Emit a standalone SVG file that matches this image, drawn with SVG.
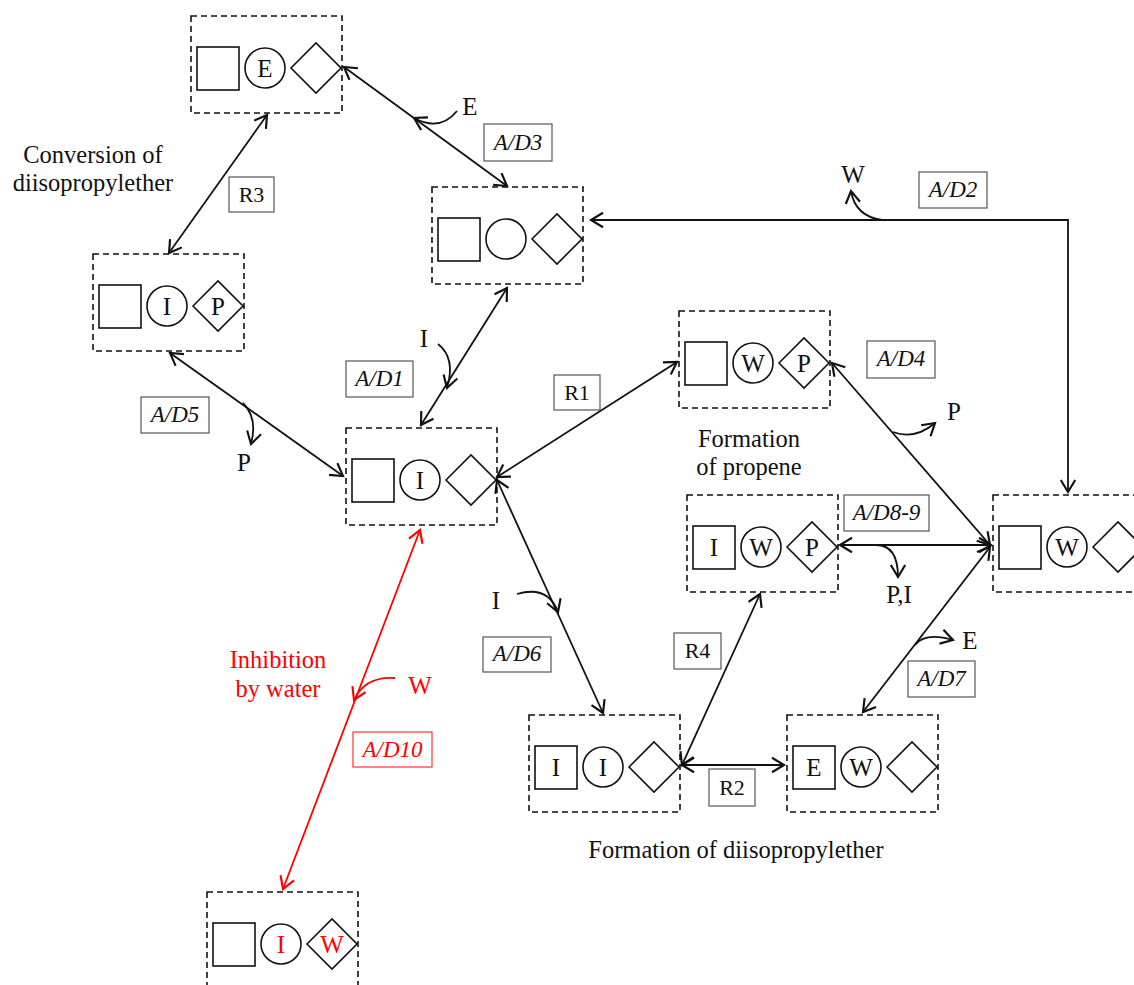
<svg xmlns="http://www.w3.org/2000/svg" width="1134" height="985" viewBox="0 0 1134 985">
<style>
.box{fill:none;stroke:#111;stroke-width:1.6;stroke-dasharray:6,4}
.sh{fill:none;stroke:#111;stroke-width:1.6}
.lt{font-family:"Liberation Serif","Times New Roman",serif;font-size:25px;fill:#111;text-anchor:middle}
.lb{fill:#fff;stroke:#555;stroke-width:1.2}
.lbt{font-family:"Liberation Serif","Times New Roman",serif;font-size:23px;fill:#111;text-anchor:middle;font-style:italic}
.rt{font-family:"Liberation Serif","Times New Roman",serif;font-size:22px;fill:#111;text-anchor:middle}
.ft{font-family:"Liberation Serif","Times New Roman",serif;font-size:24.5px;fill:#111;text-anchor:middle}
.red{fill:#ff0000}
.c{fill:none;stroke:#111;stroke-width:1.8;marker-start:url(#ah);marker-end:url(#ah)}
.c1{fill:none;stroke:#111;stroke-width:1.8;marker-end:url(#ah)}
.cr{fill:none;stroke:#ff0000;stroke-width:1.8;marker-start:url(#ahr);marker-end:url(#ahr)}
.cr1{fill:none;stroke:#ff0000;stroke-width:1.8;marker-end:url(#ahr)}
</style>
<defs>
<marker id="ah" markerUnits="userSpaceOnUse" markerWidth="24" markerHeight="24" refX="0" refY="0" viewBox="-14 -10 16 20" orient="auto-start-reverse">
<path d="M-10,-6 L0,0 L-10,6" fill="none" stroke="#111" stroke-width="1.8"/>
</marker>
<marker id="ahr" markerUnits="userSpaceOnUse" markerWidth="24" markerHeight="24" refX="0" refY="0" viewBox="-14 -10 16 20" orient="auto-start-reverse">
<path d="M-10,-6 L0,0 L-10,6" fill="none" stroke="#ff0000" stroke-width="1.8"/>
</marker>
</defs>
<rect width="1134" height="985" fill="#fff"/>

<g id="connectors">
<path class="c" d="M344,67 L507,186"/>
<path class="c1" d="M457,111 Q440,132 414,118"/>
<path class="c" d="M267,115 L169,253"/>
<path class="c" d="M170,353 L343,476"/>
<path class="c1" d="M243,403 Q258,418 251,444"/>
<path class="c" d="M507,288 L421,425"/>
<path class="c1" d="M438,344 Q456,358 447,388"/>
<path class="c" d="M497,477 L677,362"/>
<path class="c" d="M497,480 L603,713"/>
<path class="c1" d="M517,594 Q548,585 558,612"/>
<path class="c" d="M1068,492 L1068,220 L591,220"/>
<path class="c1" d="M882,220 Q855,216 851,191"/>
<path class="c" d="M832,363 L990,545"/>
<path class="c1" d="M893,432 Q915,440 935,423"/>
<path class="c" d="M840,545 L991,545"/>
<path class="c1" d="M876,545 Q898,545 898,577"/>
<path class="c" d="M990,547 L863,712"/>
<path class="c1" d="M915,645 Q925,632 953,640"/>
<path class="c" d="M760,594 L682,765"/>
<path class="c" d="M682,765 L784,765"/>
<path class="cr" d="M420,530 L283,889"/>
<path class="cr1" d="M395,678 Q365,676 354,700"/>
</g>

<g id="nodeA" transform="translate(191,16)">
<rect class="box" width="151" height="97"/><rect class="sh" x="6" y="31" width="42" height="43"/>
<circle class="sh" cx="74" cy="52" r="20"/><polygon class="sh" points="100,52 125,27 150,52 125,77"/>
<text class="lt" x="74" y="61">E</text>
</g>
<g id="nodeB" transform="translate(432,187)">
<rect class="box" width="151" height="97"/><rect class="sh" x="6" y="31" width="42" height="43"/>
<circle class="sh" cx="74" cy="52" r="20"/><polygon class="sh" points="100,52 125,27 150,52 125,77"/>
</g>
<g id="nodeC" transform="translate(93,254)">
<rect class="box" width="151" height="97"/><rect class="sh" x="6" y="31" width="42" height="43"/>
<circle class="sh" cx="74" cy="52" r="20"/><polygon class="sh" points="100,52 125,27 150,52 125,77"/>
<text class="lt" x="74" y="61">I</text><text class="lt" x="125" y="61">P</text>
</g>
<g id="nodeD" transform="translate(346,428)">
<rect class="box" width="151" height="97"/><rect class="sh" x="6" y="31" width="42" height="43"/>
<circle class="sh" cx="74" cy="52" r="20"/><polygon class="sh" points="100,52 125,27 150,52 125,77"/>
<text class="lt" x="74" y="61">I</text>
</g>
<g id="nodeE" transform="translate(679,311)">
<rect class="box" width="151" height="97"/><rect class="sh" x="6" y="31" width="42" height="43"/>
<circle class="sh" cx="74" cy="52" r="20"/><polygon class="sh" points="100,52 125,27 150,52 125,77"/>
<text class="lt" x="74" y="61">W</text><text class="lt" x="125" y="61">P</text>
</g>
<g id="nodeF" transform="translate(687,495)">
<rect class="box" width="151" height="97"/><rect class="sh" x="6" y="31" width="42" height="43"/>
<circle class="sh" cx="74" cy="52" r="20"/><polygon class="sh" points="100,52 125,27 150,52 125,77"/>
<text class="lt" x="27" y="61">I</text><text class="lt" x="74" y="61">W</text><text class="lt" x="125" y="61">P</text>
</g>
<g id="nodeG" transform="translate(993,495)">
<rect class="box" width="151" height="97"/><rect class="sh" x="6" y="31" width="42" height="43"/>
<circle class="sh" cx="74" cy="52" r="20"/><polygon class="sh" points="100,52 125,27 150,52 125,77"/>
<text class="lt" x="74" y="61">W</text>
</g>
<g id="nodeH" transform="translate(529,715)">
<rect class="box" width="151" height="97"/><rect class="sh" x="6" y="31" width="42" height="43"/>
<circle class="sh" cx="74" cy="52" r="20"/><polygon class="sh" points="100,52 125,27 150,52 125,77"/>
<text class="lt" x="27" y="61">I</text><text class="lt" x="74" y="61">I</text>
</g>
<g id="nodeI" transform="translate(787,715)">
<rect class="box" width="151" height="97"/><rect class="sh" x="6" y="31" width="42" height="43"/>
<circle class="sh" cx="74" cy="52" r="20"/><polygon class="sh" points="100,52 125,27 150,52 125,77"/>
<text class="lt" x="27" y="61">E</text><text class="lt" x="74" y="61">W</text>
</g>
<g id="nodeJ" transform="translate(207,892)">
<rect class="box" width="151" height="97"/><rect class="sh" x="6" y="31" width="42" height="43"/>
<circle class="sh" cx="74" cy="52" r="20"/><polygon class="sh" points="100,52 125,27 150,52 125,77"/>
<text class="lt red" x="74" y="61">I</text><text class="lt red" x="125" y="61">W</text>
</g>

<g id="labels">
<rect class="lb" x="484" y="124" width="68" height="37"/><text class="lbt" x="518" y="150">A/D3</text>
<rect class="lb" x="229" y="177" width="45" height="35"/><text class="rt" x="251.5" y="202">R3</text>
<rect class="lb" x="919" y="172" width="68" height="36"/><text class="lbt" x="953" y="197">A/D2</text>
<rect class="lb" x="141" y="397" width="68" height="36"/><text class="lbt" x="175" y="422">A/D5</text>
<rect class="lb" x="346" y="361" width="67" height="36"/><text class="lbt" x="379.5" y="386">A/D1</text>
<rect class="lb" x="554" y="375" width="46" height="35"/><text class="rt" x="577" y="400">R1</text>
<rect class="lb" x="867" y="341" width="68" height="37"/><text class="lbt" x="901" y="366">A/D4</text>
<rect class="lb" x="844" y="495" width="85" height="36"/><text class="lbt" x="886.5" y="520">A/D8-9</text>
<rect class="lb" x="483" y="637" width="68" height="35"/><text class="lbt" x="517" y="661">A/D6</text>
<rect class="lb" x="674" y="633" width="47" height="36"/><text class="rt" x="697.5" y="658">R4</text>
<rect class="lb" x="709" y="769" width="46" height="37"/><text class="rt" x="732" y="795">R2</text>
<rect class="lb" x="908" y="661" width="67" height="36"/><text class="lbt" x="941.5" y="686">A/D7</text>
<rect class="lb" x="353" y="732" width="79" height="35" style="stroke:#ff3333"/><text class="lbt red" x="392.5" y="757">A/D10</text>
</g>

<g id="texts">
<text class="ft" x="93" y="163">Conversion of</text>
<text class="ft" x="93" y="191">diisopropylether</text>
<text class="lt" x="470" y="115">E</text>
<text class="lt" x="853" y="183">W</text>
<text class="lt" x="424" y="347">I</text>
<text class="lt" x="244" y="471">P</text>
<text class="lt" x="954" y="420">P</text>
<text class="ft" x="749" y="447">Formation</text>
<text class="ft" x="749" y="475">of propene</text>
<text class="lt" x="899" y="603">P,I</text>
<text class="lt" x="496" y="609">I</text>
<text class="lt" x="970" y="649">E</text>
<text class="ft" x="736" y="858">Formation of diisopropylether</text>
<text class="ft red" x="278" y="668">Inhibition</text>
<text class="ft red" x="278" y="697">by water</text>
<text class="lt red" x="420" y="694">W</text>
</g>
</svg>
